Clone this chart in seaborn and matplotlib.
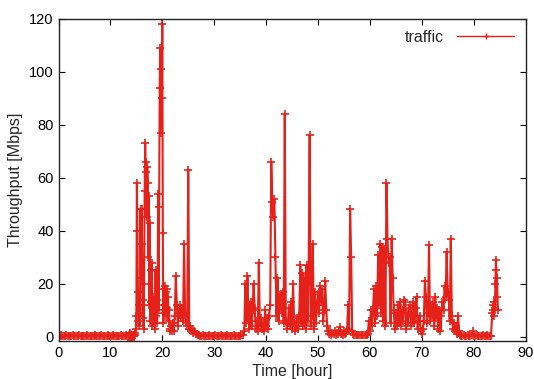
#!/usr/bin/env python3

import numpy as np
import pandas
import seaborn as sns
import matplotlib

matplotlib.use("Agg")
import matplotlib.pyplot as plt

# Throughput readings [Mbps], grouped by segment: (start hour, step in hours, values)
idle_1_start, idle_1_step = 0.0, 0.25
idle_1 = [0.4, 0.3, 0.5, 0.4, 0.3, 0.4, 0.5, 0.3, 0.4, 0.4,
          0.3, 0.5, 0.4, 0.3, 0.4, 0.4, 0.5, 0.3, 0.4, 0.4,
          0.3, 0.4, 0.5, 0.4, 0.3, 0.4, 0.4, 0.3, 0.5, 0.4,
          0.3, 0.4, 0.4, 0.5, 0.3, 0.4, 0.3, 0.4, 0.5, 0.4,
          0.4, 0.3, 0.5, 0.4, 0.3, 0.4, 0.4, 0.3, 0.5, 0.4,
          0.3, 0.4, 0.5, 0.4, 0.3]

burst_1a_start, burst_1a_step = 13.6, 0.1
burst_1a = [0.5, 1.5, 1.2, -1.2, 0.6, 0.4, 0.5, 0.3, 0.6, 0.4,
            0.8, 0.5, 1.5, 3, 8, 58, 40, 17, 6, 12,
            4, 9, 48, 22, 48, 35, 7, 14, 3, 20,
            55, 73, 62, 66, 45, 64, 58, 30, 53, 12,
            43, 6, 25, 13, 28, 4, 9, 15, 5, 11,
            3, 25, 8, 14, 5, 12, 54, 10, 49, 94,
            109, 77, 101, 90, 118, 39, 5, 18, 9, 19,
            12, 17, 8, 18, 11, 15, 6, 10, 3, 2,
            4]

burst_1b_start, burst_1b_step = 21.8, 0.2
burst_1b = [2, 5, 2, 8, 23, 12, 4, 9, 12, 7,
            11, 6, 35, 9, 5, 4, 63, 3, 4, 2,
            3, 1.5, 2, 1, 1.2, 0.6, 0.5]

idle_2_start, idle_2_step = 27.25, 0.25
idle_2 = [0.4, 0.3, 0.5, 0.4, 0.4, 0.3, 0.4, 0.5, 0.3, 0.4,
          0.4, 0.3, 0.5, 0.4, 0.3, 0.4, 0.5, 0.3, 0.4, 0.4,
          0.3, 0.5, 0.4, 0.3, 0.4, 0.4, 0.5, 0.3, 0.4, 0.4,
          0.3, 0.4, 0.5, 0.6]

burst_2_start, burst_2_step = 35.8, 0.2
burst_2 = [2, 20, 5, 23, 8, 3, 13, 4, 10, 20,
           11, 3, 6, 2, 28, 4, 7, 3, 5, 2,
           10, 4, 7, 3, 8, 12, 66, 51, 45, 52,
           30, 8, 22, 6, 14, 16, 9, 17, 5, 84,
           6, 3, 5, 11, 4, 13, 3, 20, 6, 2,
           4, 7, 3, 8, 27, 5, 24, 4, 22, 3,
           27, 6, 24, 76, 4, 8, 35, 3, 17, 5,
           12, 16, 9, 19, 13, 18, 6, 10, 21, 10,
           4, 2, 1, 2, 0.8, 1.5, 1, 2, 0.7, 1.5,
           1, 2, 3.5, 1, 1.5, 0.8, 2, 1, 1.5, 2,
           12, 3, 48, 30, 2, 1, 0.8]

idle_3_start, idle_3_step = 57.25, 0.25
idle_3 = [0.6, 0.5, 0.7, 0.5, 0.6, 0.8, 0.5, 0.6, 0.7, 0.5]

burst_3_start, burst_3_step = 59.6, 0.2
burst_3 = [1, 6, 2, 10, 4, 10, 18, 5, 19, 8,
           31, 12, 35, 9, 34, 6, 33, 4, 58, 37,
           28, 30, 5, 37, 22, 10, 3, 9, 4, 12,
           5, 13, 4, 10, 6, 14, 13, 3, 9, 5,
           11, 12, 4, 8, 13, 5, 11, 15, 3, 6,
           8, 2, 1, 3, 6, 21, 15, 5, 9, 34.5,
           6, 12, 8, 13, 4, 15, 7, 11, 3, 10,
           2, 8, 13, 10, 19, 15, 32, 17, 14, 6,
           37, 8, 3, 5, 2, 4, 1, 8, 2, 0.6]

idle_4_start, idle_4_step = 77.6, 0.25
idle_4 = [0.4, 0.3, 0.5, 0.3, 0.4, 0.5, 0.3, 0.4, 0.6, 2,
          0.4, 0.3, 0.5, 0.3, 0.4, 0.3, 0.4, 0.5, 0.4, 0.3,
          0.5, 0.4, 0.3, 0.4]

burst_4_start, burst_4_step = 83.6, 0.1
burst_4 = [9, 10, 12, 8, 13, 11, 20, 29, 25, 22, 15, 10]

segments = [
    (idle_1_start, idle_1_step, idle_1),
    (burst_1a_start, burst_1a_step, burst_1a),
    (burst_1b_start, burst_1b_step, burst_1b),
    (idle_2_start, idle_2_step, idle_2),
    (burst_2_start, burst_2_step, burst_2),
    (idle_3_start, idle_3_step, idle_3),
    (burst_3_start, burst_3_step, burst_3),
    (idle_4_start, idle_4_step, idle_4),
    (burst_4_start, burst_4_step, burst_4),
]

x_ticks = [0, 10, 20, 30, 40, 50, 60, 70, 80, 90]
y_ticks = [0, 20, 40, 60, 80, 100, 120]

RED = "#e52119"


def build_frame():
    """
    Turn the segments into one long table of hour / throughput.
    """
    hours, values = [], []
    for start, step, vals in segments:
        hours.extend(start + step * np.arange(len(vals)))
        values.extend(vals)
    return pandas.DataFrame({"hour": hours, "mbps": values, "series": "traffic"})


def main():
    df = build_frame()

    sns.set_style("ticks")
    plt.rcParams["font.family"] = ["Liberation Sans", "DejaVu Sans"]

    fig = plt.figure(figsize=(5.34, 3.79), dpi=100)
    ax = fig.add_axes([0.1096, 0.1011, 0.8745, 0.8496])

    sns.lineplot(
        data=df,
        x="hour",
        y="mbps",
        hue="series",
        palette={"traffic": RED},
        estimator=None,
        sort=False,
        marker="+",
        markersize=6,
        markeredgewidth=1.2,
        markeredgecolor=RED,
        linewidth=1.5,
        ax=ax,
    )

    ax.set_xlim(0, 90)
    ax.set_ylim(-1.5, 120)
    ax.set_xticks(x_ticks)
    ax.set_yticks(y_ticks)
    ax.tick_params(direction="in", top=True, right=True, length=4,
                   labelsize=10.5, width=0.8, colors="black")
    for side in ax.spines.values():
        side.set_visible(True)
        side.set_linewidth(1.0)
        side.set_color("#222222")

    ax.set_xlabel("Time [hour]", fontsize=11.5, labelpad=3)
    ax.set_ylabel("Throughput [Mbps]", fontsize=11.5, labelpad=4)

    leg = ax.legend(
        loc="upper right",
        frameon=False,
        fontsize=11.5,
        markerfirst=False,
        handlelength=3.6,
        handletextpad=0.8,
        borderaxespad=0.3,
    )
    for handle in leg.get_lines():
        handle.set_linewidth(1.0)
        handle.set_markersize(5)
        handle.set_markeredgewidth(1.0)

    fig.savefig("out.png", dpi=100)


if __name__ == "__main__":
    main()
